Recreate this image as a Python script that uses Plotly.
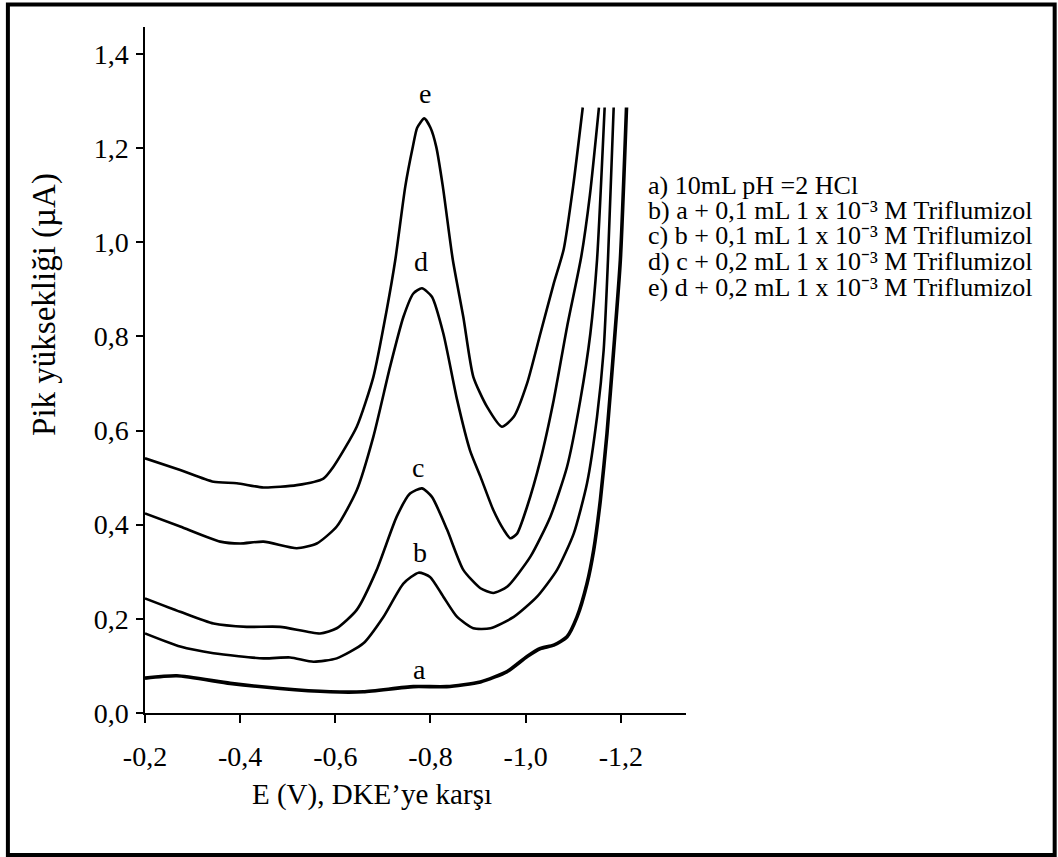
import plotly.graph_objects as go

# ---- data (E in V vs SCE, current in µA) ----
E_a = [0.2, 0.267, 0.379, 0.484, 0.589, 0.659, 0.764, 0.834, 0.905, 0.961, 1.003, 1.031, 1.059,
       1.087, 1.108, 1.129, 1.143, 1.157, 1.171, 1.185, 1.199, 1.212]
I_a = [0.074, 0.079, 0.063, 0.052, 0.045, 0.045, 0.056, 0.056, 0.066, 0.088, 0.12, 0.137, 0.144,
       0.162, 0.204, 0.275, 0.346, 0.452, 0.594, 0.771, 0.962, 1.286]

E_b = [0.2, 0.274, 0.344, 0.449, 0.505, 0.554, 0.603, 0.659, 0.701, 0.743, 0.775, 0.799, 0.827,
       0.856, 0.89, 0.926, 0.975, 1.024, 1.066, 1.101, 1.129, 1.15, 1.164, 1.173, 1.185]
I_b = [0.169, 0.141, 0.127, 0.116, 0.118, 0.109, 0.116, 0.148, 0.204, 0.275, 0.298, 0.289, 0.247,
       0.204, 0.18, 0.18, 0.204, 0.247, 0.304, 0.381, 0.488, 0.629, 0.771, 0.962, 1.286]

E_c = [0.2, 0.274, 0.344, 0.414, 0.484, 0.568, 0.603, 0.645, 0.687, 0.729, 0.757, 0.782, 0.803,
       0.835, 0.869, 0.905, 0.932, 0.961, 1.01, 1.052, 1.087, 1.115, 1.136, 1.15, 1.166]
I_c = [0.2435, 0.215, 0.19, 0.183, 0.183, 0.169, 0.18, 0.219, 0.304, 0.417, 0.466, 0.477, 0.459,
       0.389, 0.304, 0.265, 0.255, 0.268, 0.332, 0.417, 0.523, 0.665, 0.806, 0.962, 1.286]

E_d = [0.2, 0.274, 0.358, 0.4, 0.449, 0.519, 0.561, 0.603, 0.645, 0.68, 0.715, 0.743, 0.764, 0.782,
       0.803, 0.827, 0.856, 0.883, 0.905, 0.932, 0.954, 0.968, 0.982, 1.003, 1.031, 1.059, 1.087,
       1.117, 1.135, 1.154]
I_d = [0.424, 0.396, 0.364, 0.36, 0.364, 0.35, 0.36, 0.396, 0.473, 0.587, 0.735, 0.841, 0.891, 0.902,
       0.884, 0.806, 0.665, 0.558, 0.502, 0.431, 0.389, 0.371, 0.381, 0.438, 0.537, 0.665, 0.82,
       0.97, 1.1, 1.286]

E_e = [0.2, 0.274, 0.344, 0.393, 0.449, 0.519, 0.575, 0.596, 0.645, 0.68, 0.708, 0.726, 0.747, 0.763,
       0.772, 0.787, 0.800, 0.812, 0.826, 0.847, 0.869, 0.89, 0.919, 0.95, 0.975, 1.003, 1.031,
       1.059, 1.08, 1.10, 1.12]
I_e = [0.541, 0.516, 0.491, 0.488, 0.479, 0.484, 0.498, 0.523, 0.608, 0.714, 0.856, 0.962, 1.118, 1.203,
       1.243, 1.263, 1.243, 1.203, 1.118, 0.962, 0.841, 0.714, 0.65, 0.608, 0.629, 0.7, 0.806,
       0.912, 0.985, 1.12, 1.286]

curve_names = ["a", "b", "c", "d", "e"]
label_E = [0.777, 0.777, 0.773, 0.780, 0.789]
label_I = [0.092, 0.340, 0.522, 0.958, 1.315]

x_tick_vals = [-0.2, -0.4, -0.6, -0.8, -1.0, -1.2]
x_tick_text = ["-0,2", "-0,4", "-0,6", "-0,8", "-1,0", "-1,2"]
y_tick_vals = [0.0, 0.2, 0.4, 0.6, 0.8, 1.0, 1.2, 1.4]
y_tick_text = ["0,0", "0,2", "0,4", "0,6", "0,8", "1,0", "1,2", "1,4"]

legend_lines = [
    "a) 10mL pH =2 HCl",
    "b) a + 0,1 mL 1 x 10⁻³ M Triflumizol",
    "c) b + 0,1 mL 1 x 10⁻³ M Triflumizol",
    "d) c + 0,2 mL 1 x 10⁻³ M Triflumizol",
    "e) d + 0,2 mL 1 x 10⁻³ M Triflumizol",
]

x_title = "E (V), DKE’ye karşı"
y_title = "Pik yüksekliği (µA)"

# ---- layout geometry (pixels) ----
W, H = 1058, 857
L, R, T, B = 145, 685.6, 27, 713
FONT = "Liberation Serif"


def pxx(x):
    return (x - L) / (R - L)


def pxy(y):
    return (B - y) / (B - T)


fig = go.Figure()
series = [(E_a, I_a, 3.6), (E_b, I_b, 2.6), (E_c, I_c, 2.6), (E_d, I_d, 2.6), (E_e, I_e, 2.6)]
for name, (E, I, w) in zip(curve_names, series):
    fig.add_trace(go.Scatter(
        x=[-v for v in E], y=I, mode="lines", name=name,
        line=dict(color="black", width=w, shape="spline", smoothing=0.6),
        showlegend=False, hoverinfo="skip"))

annotations = []
for name, e, i in zip(curve_names, label_E, label_I):
    annotations.append(dict(x=-e, y=i, xref="x", yref="y", text=name, showarrow=False,
                            font=dict(family=FONT, size=28, color="black"),
                            xanchor="center", yanchor="middle"))

legend_mid = [185, 210.5, 236, 261.5, 287]
for txt, yy in zip(legend_lines, legend_mid):
    annotations.append(dict(x=pxx(646), y=pxy(yy), xref="paper", yref="paper", text=txt,
                            showarrow=False, font=dict(family=FONT, size=26, color="black"),
                            xanchor="left", yanchor="middle"))

annotations.append(dict(x=pxx(372), y=pxy(794), xref="paper", yref="paper", text=x_title,
                        showarrow=False, font=dict(family=FONT, size=29, color="black"),
                        xanchor="center", yanchor="middle"))
annotations.append(dict(x=pxx(44), y=pxy(304), xref="paper", yref="paper", text=y_title,
                        showarrow=False, textangle=-90,
                        font=dict(family=FONT, size=33, color="black"),
                        xanchor="center", yanchor="middle"))

fig.update_layout(
    width=W, height=H, autosize=False,
    margin=dict(l=L, r=W - R, t=T, b=H - B, pad=0),
    paper_bgcolor="white", plot_bgcolor="white",
    annotations=annotations,
    shapes=[dict(type="rect", xref="paper", yref="paper",
                 x0=pxx(8), x1=pxx(1054), y0=pxy(855), y1=pxy(4.5),
                 line=dict(color="black", width=4), fillcolor="rgba(0,0,0,0)", layer="above")],
    xaxis=dict(range=[-0.2, -1.337], tickvals=x_tick_vals, ticktext=x_tick_text,
               showline=True, linecolor="black", linewidth=1.5, showgrid=False, zeroline=False,
               ticks="outside", ticklen=8, tickwidth=1.5, tickcolor="black",
               tickfont=dict(family=FONT, size=28, color="black"), ticklabelstandoff=10),
    yaxis=dict(range=[0, 1.457], tickvals=y_tick_vals, ticktext=y_tick_text,
               showline=True, linecolor="black", linewidth=1.5, showgrid=False, zeroline=False,
               ticks="outside", ticklen=7, tickwidth=1.5, tickcolor="black",
               tickfont=dict(family=FONT, size=28, color="black"), ticklabelstandoff=2),
)

fig.write_html("out.html", config={"displayModeBar": False},
               post_script="document.body.style.margin='0';")
